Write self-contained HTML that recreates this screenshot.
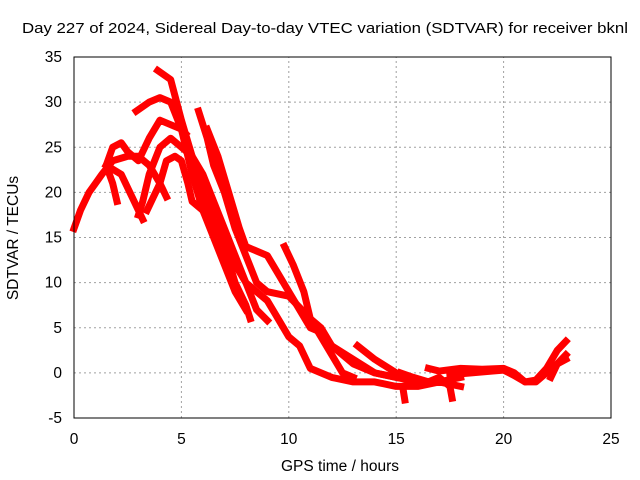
<!DOCTYPE html>
<html><head><meta charset="utf-8"><style>
html,body{margin:0;padding:0;background:#fff;}
svg{display:block;font-family:"Liberation Sans",sans-serif;}
</style></head><body>
<svg id="chart" width="640" height="480">
<rect width="640" height="480" fill="#fff"/>
<text x="22" y="33" font-size="15" textLength="606" lengthAdjust="spacingAndGlyphs">Day 227 of 2024, Sidereal Day-to-day VTEC variation (SDTVAR) for receiver bknl</text>
<g id="grid"></g>
<g id="tracks"></g>
<rect x="74" y="57" width="537" height="361" fill="none" stroke="#000" stroke-width="1"/>
<g id="ticks" font-size="15.5"></g>
<text x="340" y="471" font-size="15.5" text-anchor="middle">GPS time / hours</text>
<text x="18" y="238" font-size="15.5" text-anchor="middle" transform="rotate(-90 18 238)">SDTVAR / TECUs</text>
</svg>
<script>
const xTicks=[0,5,10,15,20,25];
const yTicks=[-5,0,5,10,15,20,25,30,35];
const track1=[[3.9,33.5],[4.5,32.5],[5,28],[5.5,24],[6,20],[6.5,17],[7,14],[7.5,10],[8,7.5],[8.2,6]];
const track2=[[2.9,29],[3.5,30],[4,30.5],[4.5,30],[5,27],[5.5,22],[6,18],[6.5,15],[7,12],[7.5,9],[8,7]];
const track3=[[2,19],[1.8,21],[1.5,23],[1.8,25],[2.2,25.5],[2.5,24.5],[3,23.5],[3.5,26],[4,28],[4.5,27.5],[5,27],[5.2,26.5]];
const track4=[[3,17.5],[3.2,19],[3.5,22],[4,25],[4.5,26],[5,25],[5.5,24],[6,22],[6.5,19],[7,16],[7.5,13],[8,10],[8.5,7],[9,5.8]];
const track5=[[3.4,18],[3.7,19.5],[4,21],[4.3,23.5],[4.7,24],[5,23.5],[5.3,21],[5.5,19],[6,18],[6.2,17.5]];
const track6=[[0,16],[0.3,18],[0.7,20],[1,21],[1.3,22],[1.8,23.5],[2.5,24],[3,24],[3.5,23],[4,21],[4.3,19.5]];
const track6b=[[1.5,23],[2.2,22],[2.6,20],[3,18],[3.2,17]];
const track7=[[5.8,29],[6.2,26],[6.5,23],[7,20],[7.5,16],[8,13],[8.5,10],[9,9],[10,8.5],[11,6],[11.5,4],[12,2],[12.5,0],[13,-0.5]];
const track8=[[6.2,27],[6.7,24],[7.2,20],[7.7,16],[8,14],[9,13],[9.5,11],[10,9],[10.5,7],[11,5],[11.5,4.5],[12,3],[13,1],[14,0],[15,-0.5]];
const track9=[[6,18],[6.5,16],[7,15],[7.5,12],[8,10],[8.5,9],[9,8],[9.5,6],[10,4],[10.5,3],[11,0.5],[12,-0.5],[13,-1],[14,-1],[15,-1.5],[16,-1.5],[17,-1],[18,-1.5]];
const track10=[[9.8,14],[10.2,12],[10.7,9],[11,6],[11.5,5],[12,3],[13,1.5],[14,0],[15,-0.5],[16,-1],[17,-1],[18,-0.5]];
const track11=[[13.2,3],[14,1.5],[15,0],[15.5,-0.5]];
const track12=[[15.2,0],[15.8,-0.5],[16.5,-1],[17,-0.5],[17.5,-1.5],[17.6,-2.8]];
const track13=[[16.5,0.5],[17,0.2],[18,0.5],[19,0.4],[20,0.5],[20.5,0],[21,-1],[21.5,-0.8],[22,0.5],[22.5,2.5],[22.9,3.5]];
const track14=[[17.5,-0.2],[18.5,0],[19.5,0.2],[20,0.3],[20.5,-0.3],[21,-1],[21.5,-1],[22,0],[22.5,1],[22.9,1.5]];
const track15=[[22.2,-0.5],[22.5,1],[22.9,2]];
const track16=[[15.3,-1.5],[15.4,-3]];
const tracks=[track1,track2,track3,track4,track5,track6,track6b,track7,track8,track9,track10,track11,track12,track13,track14,track15,track16];

const X0=74,X1=611,Y0=418,Y1=57,XMIN=0,XMAX=25,YMIN=-5,YMAX=35;
const sx=v=>X0+(v-XMIN)/(XMAX-XMIN)*(X1-X0);
const sy=v=>Y0-(v-YMIN)/(YMAX-YMIN)*(Y0-Y1);
const NS="http://www.w3.org/2000/svg";
const grid=document.getElementById('grid'),tk=document.getElementById('ticks'),tr=document.getElementById('tracks');
function mk(tag,attrs,parent){const e=document.createElementNS(NS,tag);for(const k in attrs)e.setAttribute(k,attrs[k]);parent.appendChild(e);return e;}
xTicks.forEach(v=>{
  if(v>XMIN&&v<XMAX){const g=mk('line',{x1:sx(v),x2:sx(v),y1:Y0,y2:Y1,stroke:'#a0a0a0','stroke-dasharray':'2,3'},grid);
  
  }
  const t=mk('text',{x:sx(v),y:Y0+26,'text-anchor':'middle'},tk);t.textContent=v;
  
  
});
yTicks.forEach(v=>{
  if(v>YMIN&&v<YMAX){const g=mk('line',{x1:X0,x2:X1,y1:sy(v),y2:sy(v),stroke:'#a0a0a0','stroke-dasharray':'2,3'},grid);
  
  }
  const t=mk('text',{x:X0-12,y:sy(v)+5,'text-anchor':'end'},tk);t.textContent=v;
  
  
});
tracks.forEach(tra=>{
  const p=mk('polyline',{points:tra.map(d=>sx(d[0])+','+sy(d[1])).join(' '),fill:'none',stroke:'#ff0000','stroke-width':7,'stroke-linejoin':'round','stroke-linecap':'square'},tr);
  
  
});
</script>
</body></html>
